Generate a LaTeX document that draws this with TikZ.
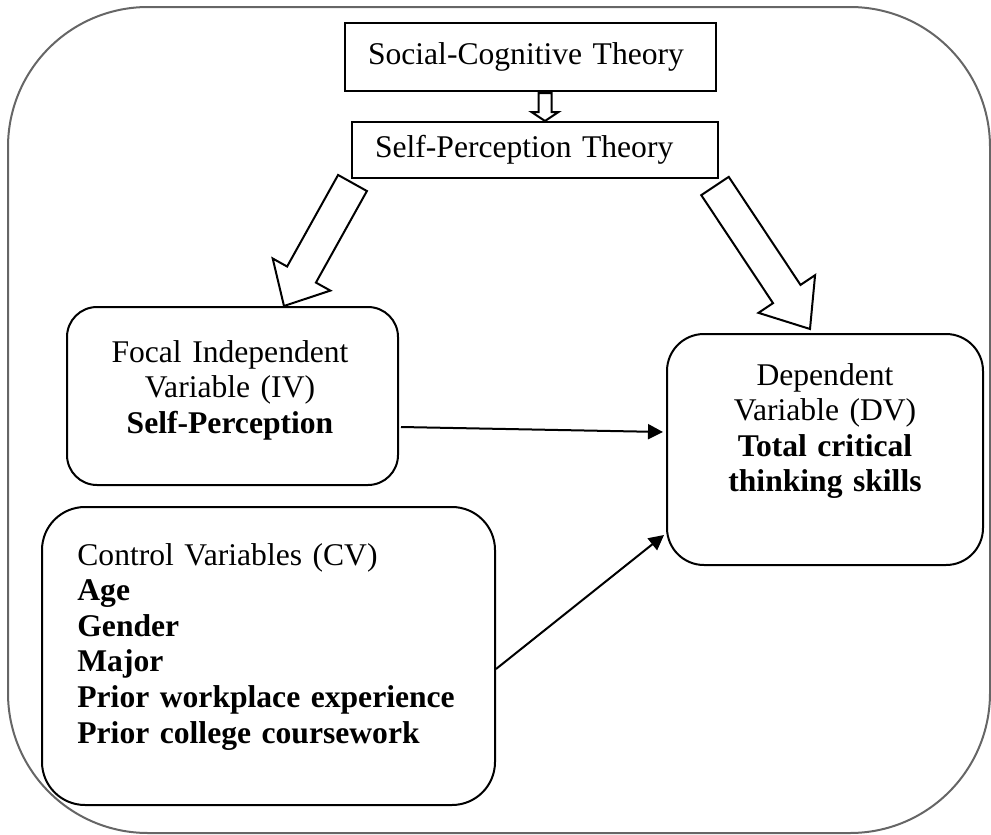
\documentclass[tikz,border=0pt]{standalone}
\usepackage{fontspec}
\setmainfont{Liberation Serif}
\usetikzlibrary{calc,arrows.meta}

% hollow block arrow: from, to, shaft half width, head half width, head length
\newcommand{\hollowarrow}[5]{%
  \path ($(#2)!#5!(#1)$) coordinate (neck);
  \draw[blockarrow] ($(#1)!#3!90:(#2)$) -- ($(neck)!#3!90:(#2)$)
    -- ($(neck)!#4!90:(#2)$) -- (#2) -- ($(neck)!#4!-90:(#2)$)
    -- ($(neck)!#3!-90:(#2)$) -- ($(#1)!#3!-90:(#2)$) -- cycle;}

\begin{document}
\begin{tikzpicture}[x=0.5pt, y=-0.5pt,
  font=\fontsize{15.8}{17.8}\selectfont,
  frame/.style={draw=black!60, line width=1pt, rounded corners=70pt},
  theorybox/.style={draw, line width=1pt, inner xsep=11.5pt, inner ysep=0pt, align=left},
  varbox/.style={draw, line width=1pt},
  vartext/.style={inner sep=0pt},
  link/.style={line width=1pt, -{Triangle[length=7.5pt, width=7.5pt]}},
  blockarrow/.style={draw, line width=1pt, fill=white, line join=miter}]
  \useasboundingbox (0,0) rectangle (991,835);

  % --- outer frame ---
  \draw[frame] (8,7) rectangle (990,833);

  % --- theories ---
  \node[theorybox, text width=162.5pt, minimum height=34pt] (sct) at (530.5,57) {Social-Cognitive Theory};
  \node[theorybox, text width=160pt, minimum height=28pt] (spt) at (535,150) {Self-Perception Theory};
  \coordinate (sa-tail) at (545,93);
  \coordinate (sa-tip) at (545,121);
  \hollowarrow{sa-tail}{sa-tip}{3.25pt}{6.75pt}{4.5pt}

  % --- variable boxes ---
  \node[varbox, rounded corners=15pt, minimum width=165.5pt, minimum height=89pt] (focal) at (232.5,396) {};
  \node[vartext, anchor=base, text width=150pt, align=center] (focaltxt) at (230,362)
    {Focal Independent\\ Variable (IV)\\ \textbf{Self-Perception}};

  \node[varbox, rounded corners=18.5pt, minimum width=158pt, minimum height=115.5pt] (dv) at (825,449.5) {};
  \node[vartext, anchor=base, text width=140pt, align=center] (dvtxt) at (825,385)
    {Dependent\\ Variable (DV)\\ \textbf{Total critical}\\ \textbf{thinking skills}};

  \node[varbox, rounded corners=21.5pt, minimum width=226.5pt, minimum height=149pt] (cv) at (268.5,656) {};
  \node[vartext, anchor=base west, text width=200pt, align=left] (cvtxt) at (77,565)
    {Control Variables (CV)\\ \textbf{Age}\\ \textbf{Gender}\\ \textbf{Major}\\
     \textbf{Prior workplace experience}\\ \textbf{Prior college coursework}};

  % --- block arrows from the theory ---
  \coordinate (la-tail) at (352.5,183);
  \coordinate (la-tip) at (284,306);
  \hollowarrow{la-tail}{la-tip}{8.25pt}{16.5pt}{18pt}
  \coordinate (ra-tail) at (715,186);
  \coordinate (ra-tip) at (810,329);
  \hollowarrow{ra-tail}{ra-tip}{8.25pt}{17pt}{21pt}

  % --- links to the dependent variable ---
  \draw[link] ($(focal.east)+(2,31)$) -- ($(dv.west)+(-3,-17.5)$);
  \draw[link] ($(cv.east)+(0,13)$) -- ($(dv.west)+(-2,85.5)$);
\end{tikzpicture}
\end{document}
